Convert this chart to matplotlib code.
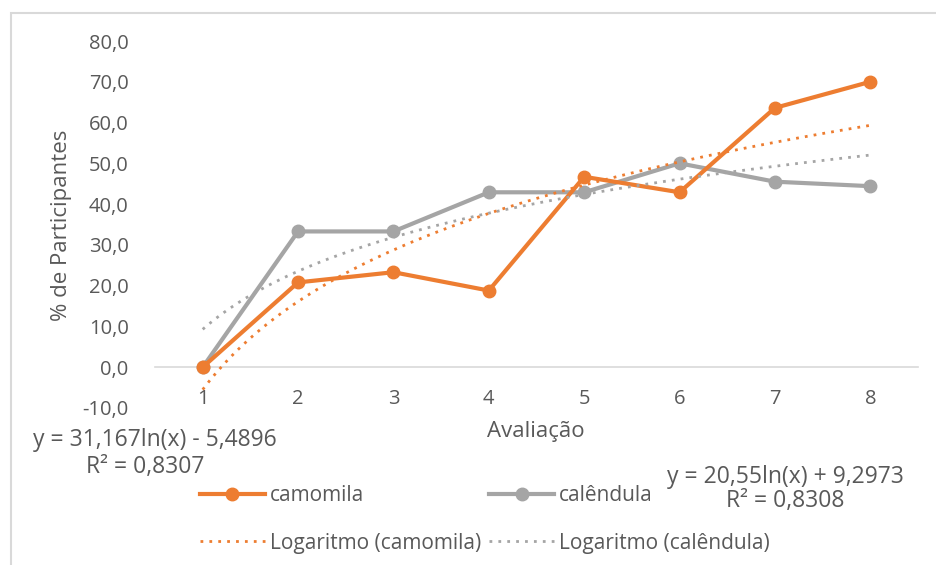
import numpy as np
import matplotlib
matplotlib.use("Agg")
import matplotlib.pyplot as plt
from matplotlib.lines import Line2D
from matplotlib.patches import Rectangle

avaliacao = [1, 2, 3, 4, 5, 6, 7, 8]
camomila = [0.0, 20.8, 23.3, 18.8, 46.7, 42.9, 63.6, 70.0]
calendula = [0.0, 33.3, 33.3, 42.9, 42.9, 50.0, 45.5, 44.4]
# log trendline coefficients shown on the chart
cam_a, cam_b = 31.167, -5.4896
cal_a, cal_b = 20.55, 9.2973
cam_r2 = "0,8307"
cal_r2 = "0,8308"

ORANGE = "#ED7D31"
GRAY = "#A5A5A5"
TXT = "#595959"

plt.rcParams['font.family'] = ['Open Sans', 'DejaVu Sans']

fig = plt.figure(figsize=(9.36, 5.65), dpi=100)
fig.patches.append(Rectangle((11/936, -0.1), 1.1, 1.1 - 13/565, transform=fig.transFigure,
                             fill=False, edgecolor="#d9d9d9", lw=1.5))
ax = fig.add_axes([155/936, 1 - 408/565, (918 - 155)/936, (408 - 41)/565])

x = np.array(avaliacao)
ax.plot(x, camomila, color=ORANGE, lw=3, marker='o', ms=9, zorder=4)
ax.plot(x, calendula, color=GRAY, lw=3, marker='o', ms=9, zorder=3)

xt = np.linspace(1, 8, 200)
ax.plot(xt, cam_a * np.log(xt) + cam_b, color=ORANGE, lw=2, ls=(0, (1, 2.2)), zorder=5)
ax.plot(xt, cal_a * np.log(xt) + cal_b, color=GRAY, lw=2, ls=(0, (1, 2.2)), zorder=5)

ax.set_xlim(0.5, 8.5)
ax.set_ylim(-10, 80)
ax.set_yticks(np.arange(-10, 81, 10))
ax.set_yticklabels([f"{v:.1f}".replace('.', ',') for v in np.arange(-10, 81, 10)])
ax.set_xticks(x)
for s in ['top', 'right', 'left']:
    ax.spines[s].set_visible(False)
ax.spines['bottom'].set_position(('data', 0))
ax.spines['bottom'].set_color("#d9d9d9")
ax.spines['bottom'].set_linewidth(1.2)
ax.tick_params(axis='both', length=0, labelsize=14.5, colors=TXT)
ax.tick_params(axis='x', pad=16)
ax.tick_params(axis='y', pad=19)

fig.text(536/936, 1 - 432/565, "Avaliação", ha='center', va='center', fontsize=16, color=TXT)
fig.text(62/936, 1 - 225/565, "% de Participantes", ha='center', va='center',
         rotation=90, fontsize=16, color=TXT)

fig.text(155/936, 1 - 440/565, f"y = {cam_a:.3f}ln(x) - {abs(cam_b):.4f}".replace('.', ','),
         ha='center', va='center', fontsize=16.5, color=TXT)
fig.text(145/936, 1 - 467/565, f"R² = {cam_r2}", ha='center', va='center', fontsize=16.5,
         color=TXT)
fig.text(785/936, 1 - 477/565, f"y = {cal_a:.2f}ln(x) + {cal_b:.4f}".replace('.', ','),
         ha='center', va='center', fontsize=16.5, color=TXT)
fig.text(785/936, 1 - 501/565, f"R² = {cal_r2}", ha='center', va='center', fontsize=16.5,
         color=TXT)

handles = [
    Line2D([], [], color=ORANGE, lw=3, marker='o', ms=9),
    Line2D([], [], color=ORANGE, lw=2, ls=(0, (1, 2.2))),
    Line2D([], [], color=GRAY, lw=3, marker='o', ms=9),
    Line2D([], [], color=GRAY, lw=2, ls=(0, (1, 2.2))),
]
labels = ["camomila", "Logaritmo (camomila)", "calêndula", "Logaritmo (calêndula)"]
fig.legend(handles, labels, ncol=2, loc='center left', bbox_to_anchor=(200/936, 1 - 519.5/565),
           frameon=False, fontsize=15, labelcolor=TXT, handlelength=3.1, handletextpad=0.25,
           columnspacing=0.4, labelspacing=1.25, borderpad=0, borderaxespad=0)

fig.savefig("out.png", dpi=100)
